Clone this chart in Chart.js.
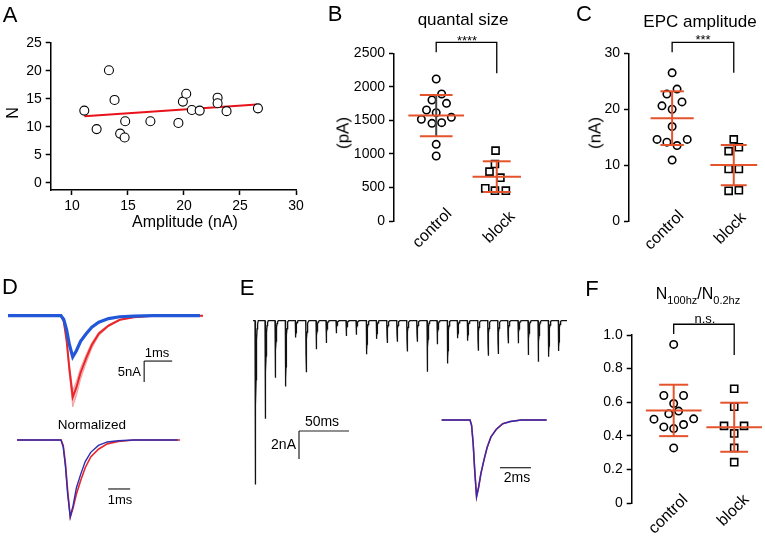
<!DOCTYPE html>
<html><head><meta charset="utf-8">
<script src="https://cdn.jsdelivr.net/npm/chart.js@4.4.0/dist/chart.umd.min.js"></script>
<style>
body{margin:0;background:#fff;}
#fig{position:relative;width:765px;height:537px;overflow:hidden;font-family:"Liberation Sans",Arial,sans-serif;color:#000;}
#fig canvas{position:absolute;}
.t{position:absolute;white-space:nowrap;line-height:1;}
</style></head><body><div id="fig"></div>
<script>
// ---- panel A: N vs amplitude ----
const aAmp = [11.1, 12.2, 13.3, 13.8, 14.3, 14.7, 14.75, 17.0, 19.5, 19.9, 20.2, 20.7, 21.4, 23.0, 23.0, 23.8, 26.6];
const aN = [12.9, 9.6, 20.1, 14.8, 8.8, 8.1, 11.0, 11.0, 10.7, 14.5, 15.9, 13.0, 12.9, 15.2, 14.2, 12.8, 13.3];
const fitX = [11.1, 26.5];
const fitY = [11.9, 14.0];

// ---- panel B: quantal size (pA) ----
const bCtrl = [2117, 1894, 1804, 1754, 1655, 1615, 1546, 1516, 1456, 1466, 1143, 969];
const bCtrlOff = [0, 0.09, -0.07, 0.17, -0.16, 0, 0.25, -0.245, -0.07, 0.09, 0, 0];
const bBlock = [1049, 850, 736, 646, 487, 452, 452];
const bBlockOff = [-0.02, -0.03, -0.12, 0.06, -0.19, -0.03, 0.15];
const bMean = [1571, 661];
const bSD = [306, 229];

// ---- panel C: EPC amplitude (nA) ----
const cCtrl = [26.5, 23.6, 22.7, 20.6, 21.3, 20.0, 16.9, 14.6, 14.1, 13.5, 14.6, 10.9];
const cCtrlOff = [0, 0.08, -0.085, -0.165, 0.16, 0, 0, -0.245, -0.085, 0.08, 0.245, 0];
const cBlock = [14.6, 12.5, 13.2, 9.3, 9.3, 5.4, 5.5];
const cBlockOff = [0, -0.083, 0.083, -0.083, 0.083, -0.083, 0.083];
const cMean = [18.4, 10.0];
const cSD = [4.8, 3.6];

// ---- panel F: N100hz / N0.2hz ----
const fCtrl = [0.944, 0.64, 0.64, 0.592, 0.531, 0.547, 0.499, 0.501, 0.453, 0.443, 0.467, 0.328];
const fCtrlOff = [0, -0.163, 0.163, 0, -0.081, 0.081, -0.326, 0.33, -0.163, 0, 0.163, 0];
const fBlock = [0.68, 0.573, 0.459, 0.459, 0.414, 0.328, 0.243];
const fBlockOff = [0, 0, -0.168, 0.163, 0, 0, 0];
const fMean = [0.551, 0.451];
const fSD = [0.153, 0.146];

const groups = ['control', 'block'];

// ---- traces: normalised EPC shape (ms after onset, fraction of peak) ----
const waveT = [0, 0.1, 0.2, 0.3, 0.42, 0.55, 0.7, 0.9, 1.1, 1.35, 1.7, 2.1, 2.6, 3.3];
const ctrlWave = [0, -0.07, -0.3, -0.65, -1, -0.88, -0.7, -0.52, -0.36, -0.22, -0.12, -0.05, -0.02, 0];
const blockWave = [0, -0.09, -0.34, -0.7, -1, -0.85, -0.62, -0.44, -0.28, -0.16, -0.07, -0.025, -0.01, 0];

// panel D amplitudes (nA): control mean, control band, block
const dCtrlAmp = 19.4;
const dCtrlBand = [17.7, 21.7];
const dBlockAmp = 9.8;

// panel E: 100 Hz train, event onsets (ms) and amplitudes (nA)
const eOnsets = [2, 12, 22, 32.3, 42.3, 52.7, 63, 73, 83, 93, 103, 113.3, 123.3, 133.7, 143.7, 153.7, 163.7, 174, 184, 194.3, 204.3, 214.3, 224.7, 234.7, 244.7, 254.7, 265, 275, 285, 295.3, 305.3];
const eAmps = [11.7, 7.0, 4.07, 4.7, 1.21, 3.69, 2.04, 1.6, 0.9, 1.1, 1.0, 2.4, 1.3, 1.6, 1.5, 2.2, 1.5, 3.64, 1.68, 3.05, 1.26, 1.43, 2.14, 2.5, 2.38, 1.62, 1.62, 2.45, 2.93, 2.57, 2.17];

// ---- helpers ----
Chart.defaults.font.family = '"Liberation Sans", Arial, sans-serif';
Chart.defaults.color = '#000';
const fig = document.getElementById('fig');
const RED = '#e8262b', ORANGE = '#e5532d';

function mk(left, top, w, h) {
  const c = document.createElement('canvas');
  c.width = w; c.height = h;
  c.style.left = left + 'px'; c.style.top = top + 'px';
  c.style.width = w + 'px'; c.style.height = h + 'px';
  fig.appendChild(c);
  return c;
}
function txt(s, x, y, size, o = {}) {
  const d = document.createElement('div');
  d.className = 't';
  d.innerHTML = s;
  d.style.left = x + 'px'; d.style.top = y + 'px';
  d.style.fontSize = size + 'px';
  d.style.transform = `translate(${o.ax ?? -50}%,-50%) rotate(${o.rot || 0}deg)`;
  fig.appendChild(d);
}
const base = {
  responsive: false, animation: false, devicePixelRatio: 1, events: [],
  plugins: { legend: { display: false }, tooltip: { enabled: false } }
};
const axGrid = { display: true, drawOnChartArea: false, drawTicks: true, tickLength: 5, tickColor: '#000', tickWidth: 1.5 };
const axBorder = { display: true, color: '#000', width: 1.5 };
const seg = (pts, color, w, order) => ({
  data: pts.map(p => ({ x: p[0], y: p[1] })), showLine: true, pointRadius: 0,
  borderColor: color, borderWidth: w, order: order ?? 0, clip: false
});

// ---- A ----
new Chart(mk(0, 0, 310, 235), {
  type: 'scatter',
  data: { datasets: [
    { data: aAmp.map((x, i) => ({ x, y: aN[i] })), pointRadius: 4.5, borderWidth: 1.1, borderColor: '#000', backgroundColor: '#fff', order: 0 },
    seg(fitX.map((x, i) => [x, fitY[i]]), '#e8121a', 2, 1)
  ] },
  options: { ...base,
    layout: { padding: { top: 42.7, right: 14, left: 0, bottom: 0 } },
    scales: {
      x: { type: 'linear', min: 8.1, max: 30,
        afterBuildTicks: s => { s.ticks = s.ticks.filter(t => t.value >= 10 && t.value % 5 === 0); },
        afterFit: s => { s.height = 45; },
        grid: axGrid, border: axBorder,
        ticks: { stepSize: 5, includeBounds: false, font: { size: 14 }, padding: 3, maxRotation: 0 } },
      y: { min: -1.25, max: 25,
        afterBuildTicks: s => { s.ticks = s.ticks.filter(t => t.value >= 0 && t.value % 5 === 0); },
        afterFit: s => { s.width = 50.7; },
        grid: axGrid, border: axBorder,
        ticks: { stepSize: 5, includeBounds: false, font: { size: 14 }, padding: 4 } }
    } }
});
txt('A', 10, 15, 22);
txt('N', 13, 113, 16, { rot: -90 });
txt('Amplitude (nA)', 185, 222, 16);

// ---- dot plots B, C, F ----
function dotPlot(bx, d) {
  const ds = [
    { data: d.ctrl.map((v, i) => ({ x: 1 + d.ctrlOff[i], y: v })), pointStyle: 'circle', pointRadius: 3.7, borderWidth: 1.6, borderColor: '#000', backgroundColor: '#fff', order: 2 },
    { data: d.block.map((v, i) => ({ x: 2 + d.blockOff[i], y: v })), pointStyle: 'rect', pointRadius: 5, borderWidth: 1.6, borderColor: '#000', backgroundColor: '#fff', order: 2 }
  ];
  [1, 2].forEach((g, i) => {
    const m = d.mean[i], s = d.sd[i], mh = d.meanHalf[i], ch = d.capHalf[i];
    ds.push(seg([[g - mh, m], [g + mh, m]], ORANGE, 2));
    ds.push(seg([[g - ch, m + s], [g + ch, m + s]], ORANGE, 2));
    ds.push(seg([[g - ch, m - s], [g + ch, m - s]], ORANGE, 2));
    ds.push(seg([[g, m - s], [g, m + s]], d.vColor[i], 2));
  });
  ds.push(seg([[1, d.br[1]], [1, d.br[0]], [2, d.br[0]], [2, d.br[2]]], '#000', 1.3));
  new Chart(mk(bx.left, bx.top, bx.w, bx.h), {
    type: 'scatter',
    data: { datasets: ds },
    options: { ...base,
      layout: { padding: { top: bx.padTop, bottom: bx.padBottom, right: bx.padRight, left: 0 } },
      scales: {
        x: { type: 'linear', display: false, min: bx.xMin, max: bx.xMax },
        y: { min: 0, max: d.yMax,
          afterFit: s => { s.width = bx.yW; },
          grid: axGrid, border: axBorder,
          ticks: { stepSize: d.yStep, font: { size: 14 }, padding: 4, callback: d.tickCb } }
      } }
  });
}

dotPlot({ left: 300, top: 0, w: 230, h: 270, padTop: 53.3, padBottom: 49, padRight: 5, yW: 94, xMin: 0.303, xMax: 2.44 },
  { ctrl: bCtrl, ctrlOff: bCtrlOff, block: bBlock, blockOff: bBlockOff, mean: bMean, sd: bSD,
    meanHalf: [0.46, 0.4], capHalf: [0.27, 0.23], vColor: ['#444', ORANGE],
    br: [2664, 2515, 2202], yMax: 2500, yStep: 500, tickCb: v => v });
txt('B', 335, 14, 22);
txt('quantal size', 463, 19, 17);
txt('****', 467, 40, 13);
txt('(pA)', 343, 133, 17, { rot: -90 });

dotPlot({ left: 530, top: 0, w: 235, h: 270, padTop: 53.3, padBottom: 49, padRight: 5, yW: 99, xMin: 0.3, xMax: 2.4 },
  { ctrl: cCtrl, ctrlOff: cCtrlOff, block: cBlock, blockOff: cBlockOff, mean: cMean, sd: cSD,
    meanHalf: [0.35, 0.38], capHalf: [0.19, 0.21], vColor: [ORANGE, ORANGE],
    br: [31.97, 30.18, 26.5], yMax: 30, yStep: 10, tickCb: v => v });
txt('C', 584, 14, 22);
txt('EPC amplitude', 700, 21, 17);
txt('***', 703, 39, 13);
txt('(nA)', 595, 133, 17, { rot: -90 });

dotPlot({ left: 560, top: 270, w: 205, h: 267, padTop: 65, padBottom: 34, padRight: 5, yW: 71.7, xMin: 0.306, xMax: 2.4 },
  { ctrl: fCtrl, ctrlOff: fCtrlOff, block: fBlock, blockOff: fBlockOff, mean: fMean, sd: fSD,
    meanHalf: [0.46, 0.46], capHalf: [0.24, 0.23], vColor: [ORANGE, ORANGE],
    br: [1.064, 1.006, 0.881], yMax: 1.0, yStep: 0.2, tickCb: v => (v === 0 ? '0' : v.toFixed(1)) });
txt('F', 592, 289, 22);
txt('N<sub style="font-size:11px">100hz</sub>/N<sub style="font-size:11px">0.2hz</sub>', 698, 296, 16);
txt('n.s.', 705, 318, 13);

// rotated category labels
[[432, 228], [499, 227], [664, 230], [730, 228], [668, 514], [733, 510]].forEach((p, i) => {
  txt(groups[i % 2], p[0], p[1], 16, { rot: -45 });
});

// ---- traces ----
function wave(onset, end, amp, tpl) {
  const pts = [{ x: 0, y: 0 }];
  waveT.forEach((t, j) => pts.push({ x: onset + t, y: amp * tpl[j] }));
  pts.push({ x: end, y: 0 });
  return pts;
}
const line = (data, color, w, order, extra) => Object.assign({ data, showLine: true, pointRadius: 0, borderColor: color, borderWidth: w, order: order ?? 0 }, extra || {});
function traceChart(bx, datasets) {
  new Chart(mk(bx.left, bx.top, bx.w, bx.h), {
    type: 'scatter',
    data: { datasets },
    options: { ...base, layout: { padding: 0 },
      scales: { x: { type: 'linear', display: false, min: bx.x[0], max: bx.x[1] },
                y: { display: false, min: bx.y[0], max: bx.y[1] } } }
  });
}

// D top
traceChart({ left: 0, top: 305, w: 210, h: 110, x: [-0.286, 7.21], y: [-23.64, 2.55] }, [
  line(wave(1.89, 6.96, dCtrlBand[0], ctrlWave), 'rgba(240,120,120,0.6)', 1, 3),
  line(wave(1.89, 6.96, dCtrlBand[1], ctrlWave), 'rgba(240,120,120,0.6)', 1, 3, { fill: '-1', backgroundColor: 'rgba(243,140,140,0.55)' }),
  line(wave(1.89, 6.96, dCtrlAmp, ctrlWave), RED, 2, 2),
  line(wave(1.89, 6.85, dBlockAmp, blockWave), '#2257d8', 3.2, 1),
  seg([[4.86, -10.8], [5.86, -10.8]], '#222', 1.2),
  seg([[4.86, -10.8], [4.86, -15.8]], '#222', 1.2)
]);
txt('D', 10, 287, 22);
txt('1ms', 157, 352, 13);
txt('5nA', 141, 371, 13, { ax: -100 });

// D bottom, normalised
traceChart({ left: 10, top: 430, w: 180, h: 95, x: [-0.318, 7.86], y: [-1.104, 0.13] }, [
  line(wave(2.0, 7.41, 1, ctrlWave), RED, 1.6, 2),
  line(wave(2.0, 7.3, 1, blockWave), '#2d2db4', 1.4, 1),
  seg([[4.14, -0.636], [5.14, -0.636]], '#222', 1.2)
]);
txt('Normalized', 92, 425, 13.5);
txt('1ms', 120, 499, 13);

// E train
const eTrace = [{ x: 0, y: 0 }];
eOnsets.forEach((t0, i) => waveT.forEach((t, j) => eTrace.push({ x: t0 + t, y: eAmps[i] * ctrlWave[j] })));
eTrace.push({ x: 314, y: 0 });
traceChart({ left: 250, top: 305, w: 320, h: 190, x: [-3, 317], y: [-12.45, 1.12] }, [
  line(eTrace, '#111', 1.3, 1),
  seg([[46, -7.88], [96, -7.88]], '#222', 1.2),
  seg([[46, -7.88], [46, -9.88]], '#222', 1.2)
]);
txt('E', 247, 288, 22);
txt('50ms', 322, 421, 14);
txt('2nA', 296, 444, 14, { ax: -100 });

// E inset
traceChart({ left: 435, top: 410, w: 120, h: 95, x: [-0.43, 7.31], y: [-1.108, 0.13] }, [
  line(wave(1.83, 6.77, 1, ctrlWave), RED, 1.6, 2),
  line(wave(1.83, 6.77, 1, ctrlWave), '#2d2db4', 1.4, 1),
  seg([[3.76, -0.622], [5.76, -0.622]], '#222', 1.2)
]);
txt('2ms', 517, 477, 14);
</script>
</body></html>
